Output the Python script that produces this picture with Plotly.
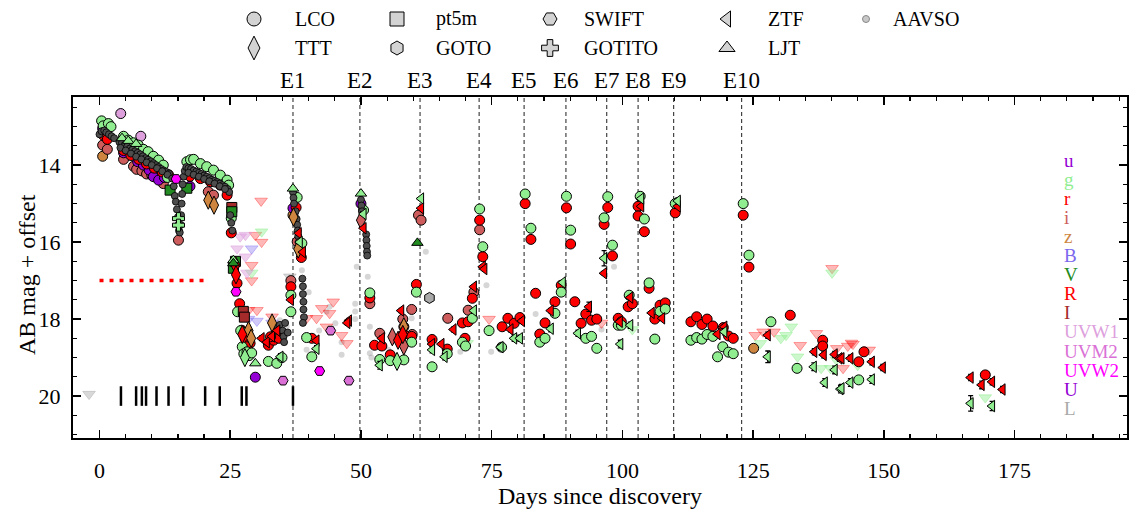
import plotly.graph_objects as go

W, H = 1130, 516
PL, PR, PT, PB = 73, 1127, 97, 438          # plot-area edges in pixels
FONT = "Liberation Serif, Times New Roman, serif"

X_RANGE = [-5.07, 196.5]
Y_RANGE = [21.09, 12.23]

# ---------------- data (day since discovery, AB mag [, err]) ----------------
LCO_g = [(0.4,12.85),(0.7,12.98),(1.7,12.92),(2.2,13.0),
 (4.6,13.25),(5.5,13.35),(6.5,13.42),(7.4,13.48),(8.4,13.59),(9.3,13.65),(10.3,13.77),(11.3,13.87),(12.2,14.0),(13.0,14.32),
 (16.7,13.91),(17.4,13.86),(18.0,13.85),(19.3,13.96),(20.5,14.04),(21.8,14.13),(23.1,14.26),(24.4,14.39),(24.7,14.52),
 (25.2,15.38),(26.4,17.81),(27.0,18.3),(27.3,18.72),(27.6,18.9),(28.2,18.85),(28.6,18.95),(29.1,18.88),
 (32.3,19.1),(33.9,19.15),(34.9,19.0),
 (37.8,14.84),(38.7,16.03),(36.6,17.38),(36.6,17.81),(39.6,18.48),(40.6,18.98),
 (50.5,15.17),(51.7,17.32),(53.6,19.05),(55.6,19.08),(58.2,19.06),(59.7,18.6),
 (60.6,17.3),(63.6,19.24),(66.5,18.9),(69.4,18.6),(70.0,18.7),(71.3,17.98),
 (72.7,15.14),(73.3,16.12),(74.5,18.3),(76.9,18.73),
 (81.4,14.75),(82.5,15.64),(84.2,18.6),(85.2,18.5),(87.1,17.85),(88.3,17.3),
 (89.3,14.81),(90.1,15.69),(93.0,18.5),(94.1,18.45),(95.1,18.76),
 (97.2,14.82),(96.5,15.37),(98.1,16.08),(99.2,18.16),(99.8,18.16),(101.3,17.38),
 (103.4,14.81),(104.2,15.4),(105.1,17.06),(106.2,18.52),(107.2,17.8),(108.2,17.74),
 (110.1,15.0),
 (113.1,18.55),(114.2,18.48),(115.2,18.52),(116.2,18.4),(117.3,18.45),(118.2,18.98),(119.2,18.72),(120.3,18.86),(121.2,18.9),
 (123.1,15.0),(124.2,16.34),
 (128.4,18.07),(133.4,19.28),(145.2,19.58)]

LCO_r = [(0.7,13.22),(1.5,13.33),
 (4.6,13.62),(6.0,13.75),(7.5,13.85),(9.0,13.97),(10.5,14.08),(12.0,14.18),(13.2,14.25),
 (17.3,14.29),(19.3,14.35),(21.2,14.43),(23.1,14.52),(24.4,14.78),
 (25.2,15.76),(26.3,17.07),(26.8,17.6),(27.2,18.29),(27.9,18.5),(28.8,18.63),(28.2,18.72),
 (32.3,18.68),(33.3,18.55),(34.3,18.5),(32.7,18.46),
 (37.6,15.1),(38.6,16.4),(36.6,17.16),(40.6,18.5),
 (51.7,17.45),(52.6,18.68),(54.0,18.7),(55.6,18.93),(58.2,18.4),(59.7,18.45),
 (60.6,17.1),(63.6,18.53),(66.5,18.78),(69.4,18.1),(70.5,18.07),(69.9,18.5),(71.3,17.46),
 (72.7,15.43),(73.3,16.38),(77.0,18.2),(78.1,17.98),(79.3,18.11),(80.4,17.96),
 (81.4,15.0),(82.5,15.93),(83.4,17.33),(84.2,18.39),(85.2,18.1),(87.1,17.55),(88.3,17.12),
 (89.3,15.11),(90.1,16.05),(90.9,17.55),(93.0,17.87),(94.1,18.03),(95.1,18.0),(92.1,18.11),
 (97.2,15.1),(96.5,15.54),(98.1,16.36),(99.2,17.98),(99.8,18.07),(101.1,17.68),(101.9,17.6),
 (103.0,15.07),(103.0,15.32),(104.2,15.73),(105.1,17.2),(106.2,18.0),(107.2,17.64),(108.2,17.58),
 (110.1,15.24),
 (113.1,18.07),(114.2,17.94),(115.2,18.14),(116.2,18.0),(117.3,18.18),(119.3,18.22),(120.3,18.44),(121.2,18.5),
 (123.1,15.3),(124.2,16.65),
 (132.1,17.9),(138.3,18.55),(138.3,18.7),(145.2,19.11),(146.2,18.85),(169.4,19.45)]

LCO_i = [(0.6,13.48),(1.5,13.59),(4.6,13.85),(6.5,14.03),(7.1,14.11),(8.1,14.15),(9.0,14.23),(10.0,14.26),
 (11.0,14.32),(11.9,14.35),(12.2,14.48),(15.1,15.95),(20.8,14.69),(21.8,14.78),(36.6,17.0),(37.8,15.99),
 (51.7,17.6),(53.6,18.37),(58.0,18.0),(58.2,18.2),(59.7,17.75),(59.8,18.4),(61.0,15.3),(61.5,15.43),
 (66.6,17.98),(70.5,17.77),(71.6,17.3),(72.7,15.68)]
LCO_z = [(0.6,13.77),(37.0,15.3),(125.1,18.76)]
LCO_u = [(0.6,13.05),(1.4,13.18),(4.6,13.68),(7.3,13.91),(8.4,14.0),(9.5,14.13),(10.3,14.3),(11.3,14.39),
 (12.4,14.32),(17.3,14.55),(29.8,19.51),(37.0,15.12),(50.0,15.0)]
LCO_uvw1 = [(4.06,12.66),(7.9,13.25)]

SWIFT_uvw2 = [(14.65,14.36),(26.1,17.29),(42.1,19.35)]
SWIFT_uvm2 = [(35.1,19.6),(44.2,18.3),(47.7,19.6)]
GOTO_L = [(63.1,17.45)]

PT5M_V = [(13.5,14.65),(16.7,14.6),(25.3,15.21),(25.6,16.68),(26.0,16.5)]
PT5M_I = [(25.3,15.1),(27.5,17.8),(27.7,17.95)]

TTT_r = [(26.0,16.6),(26.1,16.85),(27.3,18.4),(57.1,18.55),(58.0,18.4)]
TTT_z = [(20.8,14.91),(21.9,15.04),(28.5,18.3),(29.0,18.5),(33.0,18.1),(38.0,16.18),(37.1,15.35),(58.2,18.2)]
TTT_i = [(50.0,15.43),(56.0,18.46),(58.2,18.7)]
TTT_g = [(27.8,19.0),(56.9,19.1)]

GOTITO_g = [(15.1,15.39),(15.1,15.56)]

LJT_g = [(4.3,13.3),(5.5,13.37),(7.0,13.45),(25.6,16.47),(29.8,19.15),(37.0,14.61),(50.0,14.74)]
LJT_V = [(25.6,16.55),(60.8,16.02)]

ZTF_g = [(34.6,18.98,0.08),(41.5,18.77,0.08),(50.5,15.27,0.03),(53.6,19.2,0.1),(61.5,14.87,0.03),
 (63.6,18.8,0.08),(66.0,18.98,0.08),(71.6,17.78,0.05),(76.7,18.73,0.08),(79.3,18.5,0.08),(80.4,18.5,0.08),
 (88.6,17.05,0.05),(86.3,18.25,0.08),(91.5,18.37,0.08),(96.5,16.42,0.2),(99.6,18.65,0.1),(101.5,18.16,0.08),
 (103.6,14.87,0.03),(110.6,14.93,0.08),(119.5,18.33,0.08),(127.8,18.98,0.15),(136.6,19.24,0.1),
 (138.7,19.65,0.1),(140.6,19.32,0.1),(141.7,19.82,0.1),(143.6,19.65,0.1),(147.7,19.57,0.1),(141.9,19.8,0.1),
 (166.6,20.19,0.2),(170.7,20.26,0.12),(38.3,16.0,0.05)]
ZTF_r = [(38.1,15.77,0.03),(38.9,16.26,0.03),(36.6,17.5,0.05),(41.5,18.56,0.06),(47.7,18.04,0.06),
 (47.4,18.1,0.06),(50.5,15.64,0.03),(54.0,18.5,0.06),(57.7,17.78,0.06),(61.5,15.12,0.03),(63.6,18.65,0.06),
 (65.4,18.65,0.06),(67.7,18.27,0.06),(71.6,17.16,0.04),(73.3,16.64,0.04),(73.6,16.7,0.04),(78.6,18.27,0.06),
 (80.8,18.05,0.06),(86.3,17.78,0.06),(93.6,17.68,0.12),(96.5,16.81,0.05),(99.5,18.07,0.06),(101.5,17.44,0.05),
 (103.6,15.07,0.03),(105.6,17.84,0.05),(107.6,17.98,0.05),(110.6,15.07,0.03),(118.2,18.39,0.06),
 (119.5,18.2,0.06),(127.8,18.42,0.08),(136.7,18.85,0.08),(138.5,18.93,0.08),(140.6,18.92,0.08),
 (141.5,19.02,0.08),(143.6,19.02,0.08),(141.9,19.02,0.08),(147.7,19.11,0.08),(149.8,19.26,0.08),
 (166.6,19.52,0.08),(168.7,19.71,0.1),(170.7,19.63,0.08),(172.7,19.83,0.08),
 (31.0,18.5,0.06),(32.0,18.6,0.06),(33.0,18.45,0.06),(34.0,18.3,0.06)]

UL_r = [(29.8,15.82),(30.9,14.93),(29.1,16.6),(29.1,17.0),(28.5,17.77),(31.0,16.0),(33.0,17.94),(30.1,17.77),
 (39.6,17.98),(41.5,17.98),(42.5,17.72),(44.7,17.55),(44.0,17.85),(43.4,18.2),(46.3,18.42),(47.3,18.63),
 (74.5,18.0),(96.0,18.1),(125.4,18.42),(126.9,18.33),(129.0,18.33),(134.0,18.68),(137.1,18.37),(140.1,16.68),
 (141.0,18.76),(142.2,19.28),(143.1,18.7),(144.1,18.65),(147.2,18.8),(143.8,18.62)]
UL_g = [(31.0,15.73),(29.1,16.8),(70.3,18.63),(101.9,18.27),(126.4,18.63),(130.3,18.5),(131.3,18.42),
 (132.3,18.2),(133.5,18.98),(138.0,19.28),(139.8,19.28),(140.9,19.06),(140.1,16.8),(145.0,19.2),(169.4,20.04)]
UL_uv = [(26.9,15.86),(27.9,15.82),(26.3,16.17),(27.9,16.38),(28.2,16.8)]
UL_B = [(29.1,16.17),(28.5,18.0),(30.1,18.05),(33.0,18.1)]
UL_L = [(-2.0,19.95),(36.4,16.9)]

AAVSO_faint = [(38.7,16.73),(49.2,16.64),(43.4,17.81),(46.3,18.93),(35.8,18.2),(34.5,18.03),(44.0,17.68),
 (45.1,18.11),(46.3,18.6),(48.9,17.6),(48.9,17.8),(48.9,18.0),(51.3,16.9),(51.7,18.2),(51.7,18.89),
 (52.0,19.0),(55.2,18.8),(59.7,17.98),(62.4,16.25),(74.0,17.12),(74.9,18.85),(69.0,18.85),(83.4,17.87),
 (96.0,18.27),(98.4,16.64),(39.6,18.8),(42.0,18.3),(40.0,17.3)]
AAVSO_dense = [(0.0,13.2),(0.4,13.12),(0.9,13.1),(1.3,13.15),(1.8,13.2),(2.3,13.25),(2.8,13.3),
 (3.8,13.4),(4.3,13.42),(4.8,13.48),(5.3,13.52),(5.8,13.57),(6.3,13.6),(6.8,13.64),(7.3,13.68),(7.8,13.72),
 (8.3,13.77),(8.8,13.82),(9.3,13.86),(9.8,13.9),(10.3,13.95),(10.8,14.0),(11.3,14.05),(11.8,14.1),
 (12.3,14.14),(12.8,14.18),(13.3,14.22),
 (4.0,13.55),(5.0,13.62),(6.0,13.7),(7.0,13.78),(8.0,13.85),(9.0,13.93),(10.0,14.0),(11.0,14.08),(12.0,14.16),(13.0,14.25),
 (13.9,14.35),(14.2,14.55),(14.4,14.8),(14.6,14.95),(14.8,15.15),(15.0,15.35),(15.1,15.55),(15.2,15.7),
 (15.35,15.75),(15.5,15.55),(15.6,15.3),(15.7,15.0),(15.8,14.75),(15.9,14.5),(16.1,14.3),(16.3,14.15),(16.6,14.05),
 (17.0,14.08),(17.5,14.1),(18.0,14.14),(18.5,14.17),(19.0,14.2),(19.5,14.23),(20.0,14.27),(20.5,14.3),
 (21.0,14.34),(21.5,14.38),(22.0,14.41),(22.5,14.44),(23.0,14.48),(23.5,14.52),(24.0,14.56),(24.5,14.62),(24.8,14.7),
 (17.0,14.2),(18.0,14.25),(19.0,14.3),(20.0,14.36),(21.0,14.42),(22.0,14.48),(23.0,14.55),(24.0,14.62),
 (25.0,15.3),(25.2,15.5),(25.4,15.7),
 (33.5,18.3),(34.0,18.2),(34.5,18.15),(35.0,18.3),(35.2,18.45),(35.3,18.6),(35.5,18.1),(36.0,18.35),
 (37.0,14.7),(37.1,14.85),(37.2,15.0),(37.5,15.2),(37.7,15.4),(37.8,15.55),(37.9,15.7),(38.0,15.85),(38.1,16.0),
 (38.8,16.95),(38.9,17.15),(38.9,17.35),(39.0,17.55),(39.0,17.75),(39.1,17.95),(38.9,18.1),
 (50.0,14.9),(50.1,15.05),(50.2,15.2),(51.0,15.8),(51.05,15.95),(51.1,16.1),(51.15,16.25),(51.2,16.35)]

TICK_DAYS = [4.1, 7.0, 8.1, 8.9, 10.9, 13.2, 16.0, 20.2, 23.0, 27.2, 28.1, 37.0]
TICK_MAG = 20.0
THRESH_DAYS = [0, 20]
THRESH_MAG = [17, 17]

EVENT_NAMES = ["E1","E2","E3","E4","E5","E6","E7","E8","E9","E10"]
EVENT_DAYS = [37.0, 49.8, 61.3, 72.6, 81.2, 89.2, 97.0, 103.0, 109.8, 122.8]

BAND_LABELS = ["u","g","r","i","z","B","V","R","I","UVW1","UVM2","UVW2","U","L"]
BAND_COLORS = ["#9400D3","#90EE90","#FF0000","#CD5C5C","#CD853F","#7B68EE","#228B22",
               "#FF0000","#A52A2A","#DDA0DD","#DA70D6","#FF00FF","#9400D3","#A9A9A9"]
C = dict(zip(BAND_LABELS, BAND_COLORS))

LEGEND_ITEMS = [("LCO","circle",0,0),("pt5m","square",0,1),("SWIFT","hexagon2",0,2),("ZTF","triangle-left",0,3),
                ("AAVSO","circle",0,4),("TTT","diamond-tall",1,0),("GOTO","hexagon",1,1),("GOTITO","cross",1,2),
                ("LJT","triangle-up",1,3)]

# ---------------- layout helpers (pixel positions) ----------------
LEG_MARK_X = [254, 397, 550, 727, 866]
LEG_TEXT_X = [293, 434, 582, 766, 891]
LEG_ROW_Y = [19, 48]
EVENT_LABEL_Y = 80
BAND_LABEL_X = 1062
BAND_LABEL_Y0, BAND_LABEL_DY = 160, 19.1

fig = go.Figure()


def add(series, symbol, color, size=10, lc="black", lw=1.0, err=False, opacity=1.0):
    kw = {}
    if err:
        kw["error_y"] = dict(type="data", array=[p[2] for p in series], color="black",
                             thickness=1.3, width=2.5)
    fig.add_trace(go.Scatter(
        x=[p[0] for p in series], y=[p[1] for p in series], mode="markers",
        marker=dict(symbol=symbol, color=color, size=size, opacity=opacity,
                    line=dict(color=lc, width=lw)),
        showlegend=False, hoverinfo="skip", **kw))


def faded(hexc, a):
    h = hexc.lstrip("#")
    r, g, b = int(h[0:2], 16), int(h[2:4], 16), int(h[4:6], 16)
    return f"rgba({r},{g},{b},{a})"


# faint AAVSO + upper limits
add(AAVSO_faint, "circle", "rgba(128,128,128,0.32)", size=6, lw=0)
for ser, band, a in [(UL_r, "r", 0.28), (UL_g, "g", 0.45), (UL_uv, "UVW1", 0.5), (UL_B, "B", 0.35), (UL_L, "L", 0.45)]:
    add(ser, "triangle-down", faded(C[band], a), size=11, lc=faded(C[band], a + 0.15), lw=0.8)

# threshold line & epoch ticks
fig.add_trace(go.Scatter(x=THRESH_DAYS, y=THRESH_MAG, mode="lines",
                         line=dict(color="red", width=3.5, dash="4px,6px"),
                         showlegend=False, hoverinfo="skip"))
fig.add_trace(go.Scatter(x=TICK_DAYS, y=[TICK_MAG] * len(TICK_DAYS), mode="markers",
                         marker=dict(symbol="line-ns", size=14, line=dict(color="black", width=2.5)),
                         showlegend=False, hoverinfo="skip"))

# LCO
add(LCO_z, "circle", C["z"])
add(LCO_i, "circle", C["i"])
add(LCO_u, "circle", C["u"])
add(LCO_uvw1, "circle", C["UVW1"])
add(LCO_r, "circle", C["r"])
add(LCO_g, "circle", C["g"])
# pt5m
add(PT5M_I, "square", C["I"])
add(PT5M_V, "square", C["V"])
# dense AAVSO
add(AAVSO_dense, "circle", "#4d4d4d", size=7, lw=0.8)
# TTT
add(TTT_z, "diamond-tall", C["z"], size=13)
add(TTT_i, "diamond-tall", C["i"], size=13)
add(TTT_r, "diamond-tall", C["r"], size=13)
add(TTT_g, "diamond-tall", C["g"], size=13)
# LJT, GOTITO, SWIFT, GOTO
add(LJT_g, "triangle-up", C["g"], size=10)
add(LJT_V, "triangle-up", C["V"], size=10)
add(GOTITO_g, "cross", C["g"], size=10)
add(SWIFT_uvw2, "hexagon2", C["UVW2"], size=10)
add(SWIFT_uvm2, "hexagon2", C["UVM2"], size=10)
add(GOTO_L, "hexagon", "#A9A9A9", size=11)
# ZTF
add(ZTF_r, "triangle-left", C["r"], size=10, err=True)
add(ZTF_g, "triangle-left", C["g"], size=10, err=True)

# legend on a hidden pixel-space subplot above the plot
for name, sym, row, col in LEGEND_ITEMS:
    is_aavso = name == "AAVSO"
    fig.add_trace(go.Scatter(
        x=[LEG_MARK_X[col]], y=[LEG_ROW_Y[row]], mode="markers", xaxis="x2", yaxis="y2",
        marker=dict(symbol=sym, size=7 if is_aavso else (17 if sym == "diamond-tall" else 14),
                    color="#c8c8c8" if is_aavso else "#d3d3d3",
                    line=dict(color="#888888" if is_aavso else "black", width=1)),
        showlegend=False, hoverinfo="skip"))

annotations = []
for name, sym, row, col in LEGEND_ITEMS:
    annotations.append(dict(x=LEG_TEXT_X[col] / W, y=1 - LEG_ROW_Y[row] / H, xref="paper", yref="paper",
                            text=name, showarrow=False, xanchor="left", yanchor="middle",
                            font=dict(family=FONT, size=20, color="black")))
for nm, d in zip(EVENT_NAMES, EVENT_DAYS):
    annotations.append(dict(x=d, y=1 - EVENT_LABEL_Y / H, xref="x", yref="paper", text=nm,
                            showarrow=False, xanchor="center", yanchor="middle",
                            font=dict(family=FONT, size=23, color="black")))
for k, (lab, col) in enumerate(zip(BAND_LABELS, BAND_COLORS)):
    annotations.append(dict(x=BAND_LABEL_X / W, y=1 - (BAND_LABEL_Y0 + k * BAND_LABEL_DY) / H,
                            xref="paper", yref="paper", text=lab, showarrow=False,
                            xanchor="left", yanchor="middle",
                            font=dict(family=FONT, size=19, color=col)))
annotations.append(dict(x=(PL + PR) / 2 / W, y=1 - 496 / H, xref="paper", yref="paper",
                        text="Days since discovery", showarrow=False, xanchor="center", yanchor="middle",
                        font=dict(family=FONT, size=24, color="black")))
annotations.append(dict(x=27 / W, y=1 - 275 / H, xref="paper", yref="paper", text="AB mag + offset",
                        textangle=-90, showarrow=False, xanchor="center", yanchor="middle",
                        font=dict(family=FONT, size=24, color="black")))

shapes = [dict(type="line", x0=d, x1=d, y0=0, y1=1, xref="x", yref="y domain", layer="below",
               line=dict(color="#333333", width=1.1, dash="4px,3px")) for d in EVENT_DAYS]

axis_common = dict(showline=True, linecolor="black", linewidth=2, mirror="allticks",
                   ticks="inside", ticklen=8, tickwidth=1.5, tickcolor="black",
                   showgrid=False, zeroline=False, automargin=False,
                   tickfont=dict(family=FONT, size=22, color="black"))

fig.update_layout(
    width=W, height=H, template="none",
    margin=dict(l=0, r=0, t=0, b=0),
    paper_bgcolor="white", plot_bgcolor="rgba(0,0,0,0)",
    showlegend=False,
    xaxis=dict(domain=[PL / W, PR / W], range=X_RANGE, tick0=0, dtick=25,
               minor=dict(ticks="inside", dtick=5, ticklen=4, tickwidth=1.2, tickcolor="black"),
               ticklabelstandoff=12, **axis_common),
    yaxis=dict(domain=[1 - PB / H, 1 - PT / H], range=Y_RANGE, tick0=0, dtick=2,
               minor=dict(ticks="inside", dtick=0.5, ticklen=4, tickwidth=1.2, tickcolor="black"),
               ticklabelstandoff=6, **axis_common),
    xaxis2=dict(domain=[0, 1], range=[0, W], anchor="y2", visible=False, fixedrange=True),
    yaxis2=dict(domain=[1 - PT / H, 1], range=[PT, 0], anchor="x2", visible=False, fixedrange=True),
    annotations=annotations,
    shapes=shapes,
)

fig.write_html("out.html", config={"displayModeBar": False, "staticPlot": True},
               post_script="document.body.style.margin='0px';document.body.style.overflow='hidden';")
